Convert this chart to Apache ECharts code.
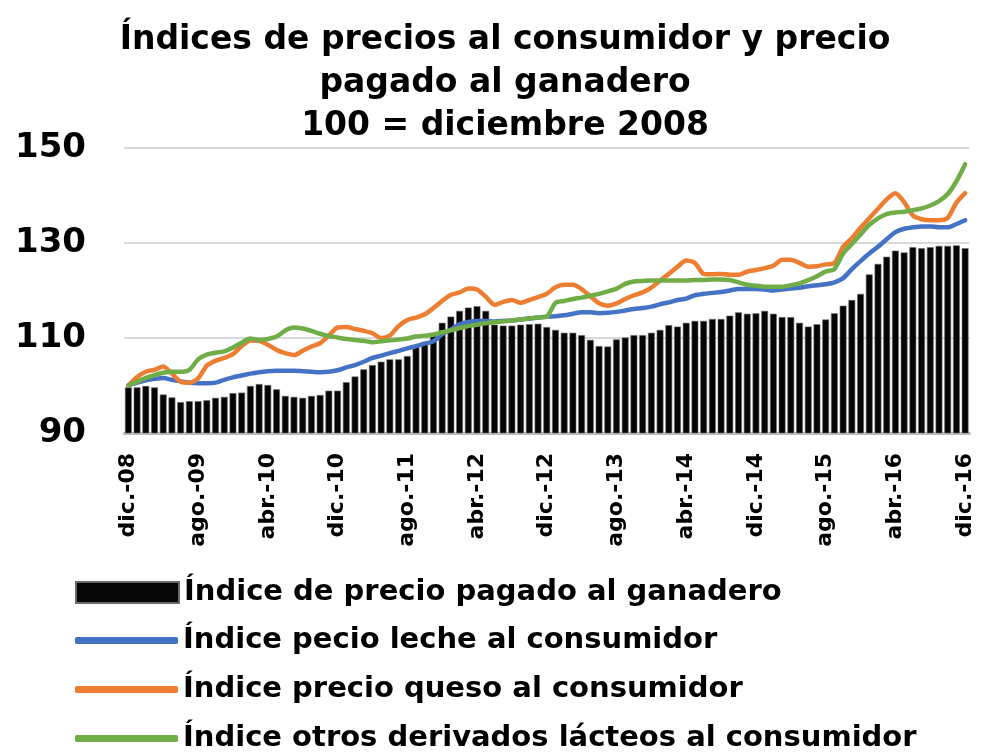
<!DOCTYPE html>
<html>
<head>
<meta charset="utf-8">
<script src="https://cdn.jsdelivr.net/npm/echarts@6/dist/echarts.min.js"></script>
<style>
  html, body { margin: 0; padding: 0; background: #fff; }
  #chart { width: 982px; height: 753px; }
</style>
</head>
<body>
<div id="chart"></div>
<script>
// Month abbreviations and years used to build the monthly categories (dic-08 .. dic-16)
const monthNames = ['ene.', 'feb.', 'mar.', 'abr.', 'may.', 'jun.', 'jul.', 'ago.', 'sep.', 'oct.', 'nov.', 'dic.'];
const startYear = 8;   // dic.-08
const endYear = 16;    // dic.-16

const seriesNames = [
  'Índice de precio pagado al ganadero',
  'Índice pecio leche al consumidor',
  'Índice precio queso al consumidor',
  'Índice otros derivados lácteos al consumidor'
];

const yTicks = [90, 110, 130, 150];

// Índice de precio pagado al ganadero (bars)
const ganadero = [
  99.6, 99.6, 99.9, 99.6, 98.1, 97.5, 96.5, 96.7, 96.7, 96.9, 97.4, 97.6,
  98.4, 98.5, 99.9, 100.3, 100.1, 99.2, 97.8, 97.6, 97.4, 97.8, 98.0, 98.9,
  98.9, 100.7, 101.9, 103.4, 104.3, 105.0, 105.5, 105.5, 106.2, 108.2, 109.2, 111.1,
  113.2, 114.5, 115.7, 116.4, 116.7, 115.7, 112.8, 112.6, 112.6, 112.8, 112.9, 113.0,
  112.3, 111.7, 111.1, 111.1, 110.6, 109.6, 108.3, 108.2, 109.7, 110.1, 110.6, 110.6,
  111.1, 111.7, 112.7, 112.4, 113.2, 113.6, 113.6, 114.0, 114.0, 114.7, 115.4, 115.1,
  115.2, 115.7, 115.1, 114.4, 114.4, 113.2, 112.4, 112.9, 113.9, 115.2, 116.8, 118.0,
  119.3, 123.4, 125.6, 127.1, 128.4, 128.0, 129.1, 128.9, 129.1, 129.4, 129.4, 129.5,
  128.9
];

// Índice pecio leche al consumidor (blue)
const leche = [
  100.0, 100.6, 101.1, 101.4, 101.6, 101.2, 100.9, 100.6, 100.5, 100.5, 100.6, 101.2,
  101.7, 102.1, 102.5, 102.8, 103.0, 103.1, 103.1, 103.1, 103.0, 102.9, 102.8, 102.9,
  103.2, 103.8, 104.3, 105.0, 105.8, 106.3, 106.8, 107.3, 107.8, 108.3, 108.8, 109.3,
  110.8, 111.8, 112.9, 113.4, 113.6, 113.6, 113.5, 113.6, 113.7, 113.9, 114.1, 114.3,
  114.5, 114.6, 114.8, 115.1, 115.4, 115.4, 115.2, 115.3, 115.5, 115.8, 116.1, 116.3,
  116.6, 117.1, 117.5, 118.0, 118.3, 119.0, 119.3, 119.5, 119.7, 120.0, 120.3, 120.3,
  120.3, 120.2, 120.0, 120.2, 120.4, 120.6, 120.9, 121.1, 121.3, 121.7, 122.6, 124.5,
  126.2, 127.8, 129.2, 130.8, 132.3, 133.0, 133.3, 133.5, 133.5, 133.3, 133.3, 134.0,
  134.8
];

// Índice precio queso al consumidor (orange)
const queso = [
  100.0, 101.8, 102.9, 103.3, 104.0, 102.5, 100.8, 100.6, 101.5, 104.2, 105.2, 105.8,
  106.6, 108.3, 109.5, 109.4, 108.6, 107.5, 106.8, 106.4, 107.3, 108.2, 108.9, 110.5,
  112.2, 112.3, 111.9, 111.5, 111.0, 110.0, 110.5, 112.5, 113.8, 114.3, 115.0, 116.3,
  117.8, 119.1, 119.6, 120.4, 120.2, 118.7, 117.0, 117.6, 118.0, 117.4, 118.0, 118.6,
  119.3, 120.7, 121.2, 121.2, 120.3, 118.8, 117.3, 116.8, 117.3, 118.2, 119.0, 119.6,
  120.6, 122.1, 123.5, 125.0, 126.3, 125.8, 123.5, 123.4, 123.5, 123.3, 123.3, 124.0,
  124.3, 124.7, 125.2, 126.5, 126.5, 125.8, 125.0, 125.1, 125.5, 125.8, 129.2, 131.0,
  133.2, 135.2, 137.2, 139.2, 140.5, 138.6, 135.8, 135.0, 134.8, 134.8, 135.3, 138.5,
  140.5
];

// Índice otros derivados lácteos al consumidor (green)
const otros = [
  100.0, 100.8, 101.6, 102.2, 102.7, 102.9, 102.9, 103.3, 105.5, 106.5, 106.9, 107.2,
  108.0, 109.0, 109.9, 109.6, 109.8, 110.3, 111.6, 112.2, 112.0, 111.5, 110.9, 110.4,
  110.1, 109.8, 109.6, 109.4, 109.1, 109.3, 109.5, 109.7, 109.9, 110.3, 110.5, 110.7,
  111.2, 111.6, 112.1, 112.5, 112.8, 113.1, 113.3, 113.5, 113.7, 113.9, 114.1, 114.3,
  114.5, 117.4, 117.8, 118.2, 118.5, 118.9, 119.3, 119.8, 120.4, 121.4, 121.9, 122.0,
  122.1, 122.1, 122.1, 122.1, 122.1, 122.2, 122.2, 122.3, 122.3, 122.2, 121.7, 121.2,
  121.0, 120.8, 120.8, 120.8, 121.1, 121.5, 122.2, 123.0, 124.0, 124.5, 127.8, 129.8,
  131.8, 133.8, 135.2, 136.1, 136.4, 136.6, 136.9, 137.3, 137.9, 138.8, 140.3, 143.0,
  146.6
];

// Build category labels from month names and years
const categories = [];
categories.push(monthNames[11] + '-' + String(startYear).padStart(2, '0'));
for (let y = startYear + 1; y <= endYear; y++) {
  for (let m = 0; m < 12; m++) {
    categories.push(monthNames[m] + '-' + String(y).padStart(2, '0'));
  }
}

const chart = echarts.init(document.getElementById('chart'), null, { renderer: 'canvas' });

const lineBase = (name, data, color) => ({
  name: name,
  type: 'line',
  data: data,
  symbol: 'none',
  smooth: 0.25,
  z: 3,
  lineStyle: { color: color, width: 4.5, cap: 'round', join: 'round' },
  itemStyle: { color: color }
});

const legendText = { fontFamily: 'DejaVu Sans', fontWeight: 'bold', fontSize: 29, lineHeight: 28, color: '#000' };

const option = {
  animation: false,
  backgroundColor: '#ffffff',
  title: {
    text: 'Índices de precios al consumidor y precio\npagado al ganadero\n100 = diciembre 2008',
    left: 500,
    textAlign: 'center',
    top: 14,
    textStyle: {
      fontFamily: 'DejaVu Sans',
      fontWeight: 'bold',
      fontSize: 33,
      lineHeight: 43,
      color: '#000'
    }
  },
  grid: { left: 124, right: 12.5, top: 148, bottom: 320, containLabel: false },
  legend: [
    {
      data: [seriesNames[0]],
      orient: 'vertical',
      left: 75,
      top: 578,
      padding: 0,
      itemWidth: 103,
      itemHeight: 21,
      itemGap: 20,
      itemTextGap: 6,
      icon: 'rect',
      textStyle: legendText
    },
    {
      data: [seriesNames[1], seriesNames[2], seriesNames[3]],
      orient: 'vertical',
      left: 75,
      top: 626,
      padding: 0,
      itemWidth: 103,
      itemHeight: 7,
      itemGap: 20,
      itemTextGap: 6,
      icon: 'roundRect',
      textStyle: legendText
    }
  ],
  xAxis: {
    type: 'category',
    data: categories,
    boundaryGap: true,
    axisLine: { show: true, lineStyle: { color: '#bfbfbf', width: 3 } },
    axisTick: { show: false },
    axisLabel: {
      interval: 7,
      rotate: 90,
      margin: 20,
      fontFamily: 'DejaVu Sans',
      fontWeight: 'bold',
      fontSize: 22,
      color: '#000'
    },
    splitLine: { show: false }
  },
  yAxis: {
    type: 'value',
    min: yTicks[0],
    max: yTicks[yTicks.length - 1],
    interval: yTicks[1] - yTicks[0],
    axisLine: { show: false },
    axisTick: { show: false },
    axisLabel: {
      margin: 38,
      fontFamily: 'DejaVu Sans',
      fontWeight: 'bold',
      fontSize: 34,
      color: '#000'
    },
    splitLine: { show: true, lineStyle: { color: '#d9d9d9', width: 2 } }
  },
  series: [
    {
      name: seriesNames[0],
      type: 'bar',
      data: ganadero,
      barCategoryGap: '22%',
      z: 2,
      itemStyle: { color: '#050505', borderColor: '#6a6a6a', borderWidth: 0.6 }
    },
    lineBase(seriesNames[1], leche, '#4472C4'),
    lineBase(seriesNames[2], queso, '#ED7D31'),
    lineBase(seriesNames[3], otros, '#70AD47')
  ]
};

chart.setOption(option);
</script>
</body>
</html>
